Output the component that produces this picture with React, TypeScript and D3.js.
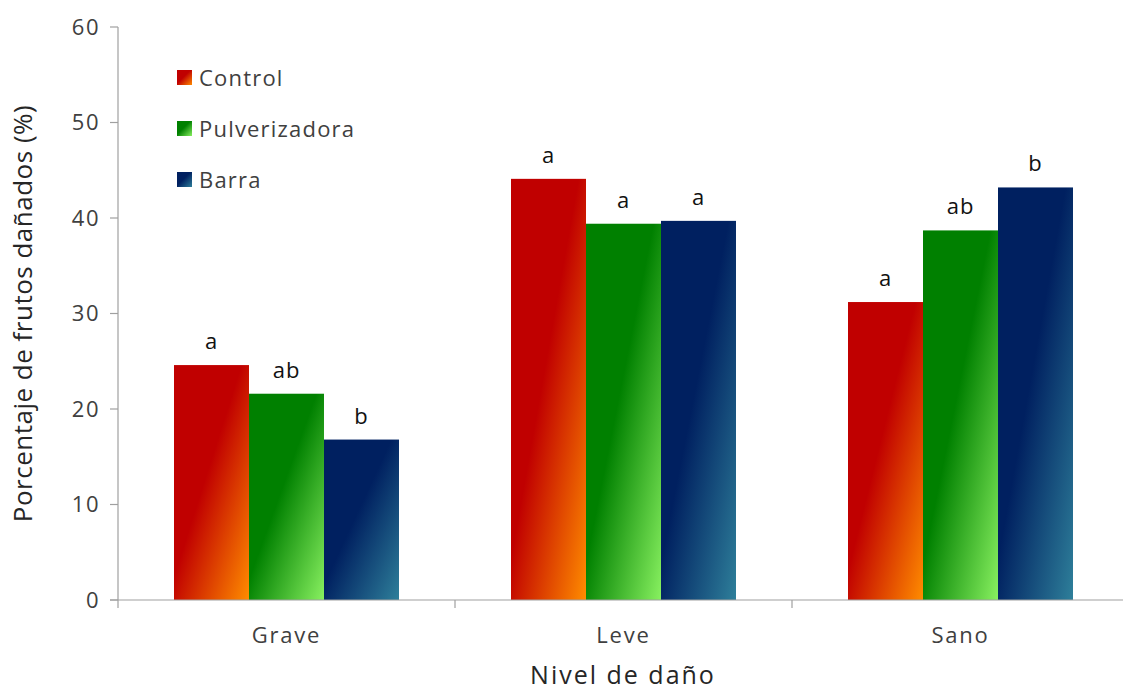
import React from "react";
import * as d3 from "d3";

const categories = ["Grave", "Leve", "Sano"];
const seriesNames = ["Control", "Pulverizadora", "Barra"];
const control = [24.6, 44.1, 31.2];
const pulverizadora = [21.6, 39.4, 38.7];
const barra = [16.8, 39.7, 43.2];
const letterControl = ["a", "a", "a"];
const letterPulverizadora = ["ab", "a", "ab"];
const letterBarra = ["b", "a", "b"];
const yTicks = [0, 10, 20, 30, 40, 50, 60];

const seriesValues = [control, pulverizadora, barra];
const seriesLetters = [letterControl, letterPulverizadora, letterBarra];
const gradients = [
  ["#c00000", "#c00000", "#ff8c00"],
  ["#008000", "#008000", "#88f060"],
  ["#002060", "#002060", "#2e7f9a"],
];

const W = 1123, H = 693;
const left = 118, right = 1129, top = 27, bottom = 600;
const FONT = "'Open Sans', sans-serif";
const TXT = "#404040";

export default function App() {
  const x0 = d3.scaleBand<string>().domain(categories).range([left, right]).paddingInner(0).paddingOuter(0);
  const inner = 225 / 337;
  const y = d3.scaleLinear().domain([0, 60]).range([bottom, top]);
  const groupW = x0.bandwidth() * inner;
  const x1 = d3.scaleBand<string>().domain(seriesNames).range([0, groupW]).padding(0);
  const boundaries = [...categories.map((c) => x0(c)!), right];

  return (
    <svg width={W} height={H} style={{ position: "absolute", left: 0, top: 0, background: "#fff" }}>
      <defs>
        {gradients.map((g, i) => (
          <linearGradient key={i} id={`g${i}`} x1="0" y1="0" x2="1" y2="1">
            <stop offset="0" stopColor={g[0]} />
            <stop offset="0.45" stopColor={g[1]} />
            <stop offset="1" stopColor={g[2]} />
          </linearGradient>
        ))}
      </defs>
      {categories.map((c, ci) => {
        const gx = x0(c)! + (x0.bandwidth() - groupW) / 2;
        return (
          <g key={c}>
            {seriesNames.map((s, si) => {
              const v = seriesValues[si][ci];
              const bx = gx + x1(s)!;
              return (
                <g key={s}>
                  <rect x={bx} y={y(v)} width={x1.bandwidth()} height={bottom - y(v)} fill={`url(#g${si})`} />
                  <text x={bx + x1.bandwidth() / 2} y={y(v) - 16} textAnchor="middle" fontFamily={FONT} fontSize={22} letterSpacing={1} fill="#111">
                    {seriesLetters[si][ci]}
                  </text>
                </g>
              );
            })}
          </g>
        );
      })}
      <line x1={left} y1={top} x2={left} y2={bottom} stroke="#a0a0a0" strokeWidth={1.2} />
      <line x1={left - 8} y1={bottom} x2={right} y2={bottom} stroke="#a0a0a0" strokeWidth={1.2} />
      {yTicks.map((t) => (
        <g key={t}>
          <line x1={left - 8} y1={y(t)} x2={left} y2={y(t)} stroke="#a0a0a0" strokeWidth={1.2} />
          <text x={left - 18} y={y(t)} dy="0.35em" textAnchor="end" fontFamily={FONT} fontSize={22} letterSpacing={1.5} fill={TXT}>
            {t}
          </text>
        </g>
      ))}
      {boundaries.map((b, i) => (
        <line key={i} x1={b} y1={bottom} x2={b} y2={bottom + 8} stroke="#a0a0a0" strokeWidth={1.2} />
      ))}
      {categories.map((c) => (
        <text key={c} x={x0(c)! + x0.bandwidth() / 2} y={643} textAnchor="middle" fontFamily={FONT} fontSize={22} letterSpacing={1.8} fill={TXT}>
          {c}
        </text>
      ))}
      <text x={623} y={684} textAnchor="middle" fontFamily={FONT} fontSize={25} letterSpacing={2} fill="#262626">
        Nivel de daño
      </text>
      <text transform={`translate(32,${(top + bottom) / 2}) rotate(-90)`} textAnchor="middle" fontFamily={FONT} fontSize={26} letterSpacing={0.5} fill="#262626">
        Porcentaje de frutos dañados (%)
      </text>
      {seriesNames.map((s, i) => (
        <g key={s} transform={`translate(177,${70 + i * 51})`}>
          <rect x={0} y={0} width={15} height={15} fill={`url(#g${i})`} />
          <text x={22} y={8} dy="0.35em" fontFamily={FONT} fontSize={22} letterSpacing={1.2} fill={TXT}>
            {s}
          </text>
        </g>
      ))}
    </svg>
  );
}
